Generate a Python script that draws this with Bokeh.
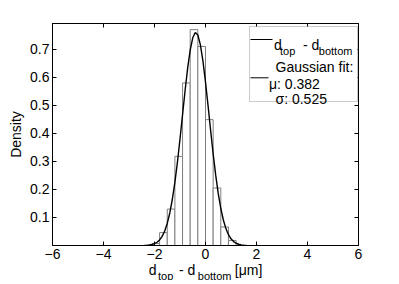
from bokeh.plotting import figure
from bokeh.layouts import column
from bokeh.models import (Range1d, FixedTicker, LinearAxis, Label, BoxAnnotation, Arrow)
from bokeh.embed import file_html
from bokeh.resources import INLINE

# ---- data ----
bin_edges = [-2.1, -1.8, -1.5, -1.2, -0.9, -0.6, -0.3, 0.0, 0.3, 0.6, 0.9, 1.2]
densities = [0.007, 0.046, 0.130, 0.318, 0.580, 0.770, 0.710, 0.449, 0.205, 0.066, 0.018]

fit_x = [-2.4, -2.3, -2.2, -2.1, -2.0, -1.9, -1.8, -1.7, -1.6, -1.5, -1.4, -1.3, -1.2,
         -1.1, -1.0, -0.9, -0.8, -0.7, -0.6, -0.5, -0.4, -0.3, -0.2, -0.1, 0.0, 0.1,
         0.2, 0.3, 0.4, 0.5, 0.6, 0.7, 0.8, 0.9, 1.0, 1.1, 1.2, 1.3, 1.4, 1.5, 1.6]
fit_y = [0.0005, 0.0010, 0.0019, 0.0036, 0.0066, 0.0116, 0.0198, 0.0325, 0.0515, 0.0787,
         0.116, 0.165, 0.226, 0.298, 0.380, 0.467, 0.553, 0.633, 0.697, 0.741, 0.760,
         0.751, 0.716, 0.658, 0.583, 0.499, 0.411, 0.327, 0.251, 0.185, 0.132, 0.0909,
         0.0603, 0.0386, 0.0238, 0.0141, 0.0081, 0.0045, 0.0024, 0.0012, 0.0006]

x_ticks = [-6, -4, -2, 0, 2, 4, 6]
y_ticks = [0.1, 0.2, 0.3, 0.4, 0.5, 0.6, 0.7]
fit_mu_label = "\u03bc: 0.382"
fit_sigma_label = "\u03c3: 0.525"

FONT = "Liberation Sans"
XMIN, XMAX, YMIN, YMAX = -6, 6, 0, 0.792
FL, FT, FW, FH = 52, 23, 306, 222  # frame in page px
RB = 25
P2_TOP, P2_H = 265, 19


def X(px):
    return XMIN + (px - FL) * (XMAX - XMIN) / FW


def Y(py):
    return YMIN + (FT + FH - py) * (YMAX - YMIN) / FH


p = figure(frame_width=FW, frame_height=FH, output_backend="svg", toolbar_location=None,
           x_range=Range1d(XMIN, XMAX), y_range=Range1d(YMIN, YMAX),
           min_border_left=FL, min_border_top=FT, min_border_right=RB, min_border_bottom=0)
p.background_fill_color = "white"
p.border_fill_color = "white"
p.outline_line_color = "black"
p.xgrid.visible = False
p.ygrid.visible = False

for ax, ticks in ((p.xaxis[0], x_ticks), (p.yaxis[0], y_ticks)):
    ax.ticker = FixedTicker(ticks=ticks)
    ax.major_tick_in = 4
    ax.major_tick_out = 0
    ax.minor_tick_line_color = None
    ax.axis_line_color = "black"
    ax.major_tick_line_color = "black"
    ax.major_label_text_font = FONT
    ax.major_label_text_font_size = "14px"
    ax.major_label_text_color = "black"
    ax.axis_label_text_font = FONT
    ax.axis_label_text_font_size = "14px"
    ax.axis_label_text_font_style = "normal"
    ax.axis_label_text_color = "black"

p.xaxis.major_label_standoff = 3
p.yaxis.major_label_standoff = 3
p.yaxis.axis_label = "Density"
p.yaxis.axis_label_standoff = 3

for side, ticks in (("above", x_ticks), ("right", y_ticks)):
    a = LinearAxis(ticker=FixedTicker(ticks=ticks), major_tick_in=4, major_tick_out=0,
                   minor_tick_line_color=None, major_label_text_font_size="1px",
                   major_label_text_color=None, major_label_standoff=0,
                   axis_line_color="black", major_tick_line_color="black")
    p.add_layout(a, side)

# histogram
p.quad(left=bin_edges[:-1], right=bin_edges[1:], bottom=0, top=densities,
       fill_color="white", line_color="#7f7f7f", line_width=1)
# gaussian fit
p.line(fit_x, fit_y, line_color="black", line_width=1.4)


def lab(fig, x, y, text, size=14):
    fig.add_layout(Label(x=x, y=y, text=text, text_font=FONT, text_font_size=f"{size}px",
                         text_baseline="alphabetic", text_align="left", text_color="black"))


# legend
p.add_layout(BoxAnnotation(left=X(249), right=X(357), top=Y(26), bottom=Y(101),
                           fill_color="white", fill_alpha=1, line_color="#555555", line_width=1))
p.add_layout(Arrow(x_start=X(250), y_start=Y(39), x_end=X(272), y_end=Y(39), end=None,
                   line_color="black", line_width=1))
p.add_layout(Arrow(x_start=X(250), y_start=Y(77.3), x_end=X(268), y_end=Y(77.3), end=None,
                   line_color="black", line_width=1))
lab(p, X(273.5), Y(44.3), "d")
lab(p, X(279.5), Y(50), "top", 11)
lab(p, X(302.5), Y(44.3), "- d")
lab(p, X(318.3), Y(50), "bottom", 11)
lab(p, X(275), Y(66.7), "Gaussian fit:")
lab(p, X(268.5), Y(83.3), fit_mu_label)
lab(p, X(275), Y(98.3), fit_sigma_label)

# x-axis title strip (shares the x scale; y in page pixels)
p2 = figure(frame_width=FW, frame_height=P2_H, output_backend="svg", toolbar_location=None,
            x_range=p.x_range, y_range=Range1d(P2_TOP + P2_H, P2_TOP),
            x_axis_location=None, y_axis_location=None,
            min_border_left=FL, min_border_right=RB, min_border_top=0, min_border_bottom=0)
p2.outline_line_color = None
p2.xgrid.visible = False
p2.ygrid.visible = False
p2.background_fill_color = "white"
p2.border_fill_color = "white"

lab(p2, X(148.3), 273.5, "d")
lab(p2, X(157.5), 279, "top", 11)
lab(p2, X(178.5), 273.5, "- d")
lab(p2, X(197.3), 279, "bottom", 11)
lab(p2, X(234.3), 273.5, "[\u03bcm]")

layout = column(p, p2, spacing=0)
open("out.html", "w").write(file_html(layout, INLINE))
